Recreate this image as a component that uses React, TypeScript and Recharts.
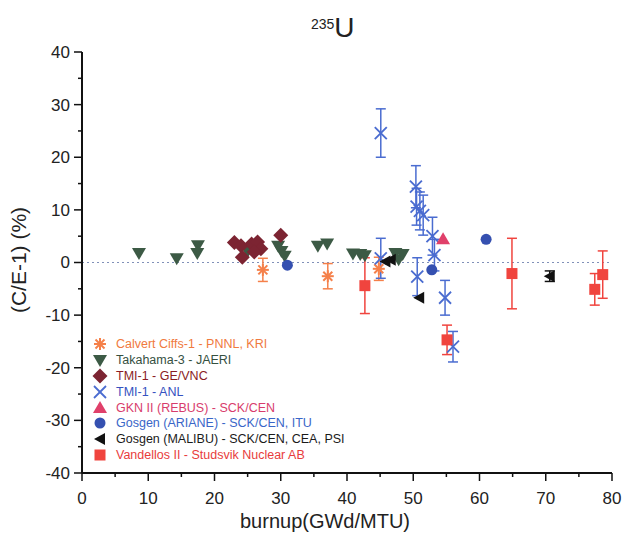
import React from 'react';
import { ScatterChart, Scatter, XAxis, YAxis, ErrorBar, ReferenceLine } from 'recharts';

// burnup (GWd/MTU), C/E-1 (%), error (%)
const calvertX = [27.3, 37.1, 44.8];
const calvertY = [-1.4, -2.6, -1.2];
const calvertErr = [2.2, 2.4, 2.2];

const takahamaX = [8.6, 14.3, 17.5, 17.4, 25.0, 29.6, 30.1, 30.6, 35.6, 37.0, 40.9, 42.0, 42.7, 47.3, 47.8, 48.4];
const takahamaY = [1.8, 0.8, 3.3, 1.8, 2.2, 3.2, 2.2, 1.3, 3.2, 3.6, 1.7, 1.6, 1.4, 1.8, 0.6, 1.6];

const geVncX = [23.0, 24.0, 24.2, 25.6, 26.5, 27.0, 26.0, 30.0];
const geVncY = [3.8, 3.2, 1.0, 3.5, 3.9, 2.6, 2.0, 5.2];

const anlX = [45.1, 45.1, 50.4, 50.5, 51.0, 51.5, 52.9, 53.2, 50.6, 54.8, 56.0];
const anlY = [24.6, 0.8, 14.4, 10.6, 9.8, 9.0, 5.0, 1.4, -2.7, -6.7, -16.0];
const anlErr = [4.6, 3.8, 4.0, 3.5, 3.6, 3.8, 3.6, 3.0, 3.6, 3.3, 2.9];

const gknX = [54.5];
const gknY = [4.4];

const arianeX = [31.0, 52.8, 61.0];
const arianeY = [-0.5, -1.4, 4.4];

const malibuX = [45.8, 46.6, 50.9, 70.6];
const malibuY = [0.2, 0.5, -6.7, -2.6];
const malibuErr = [0, 0, 0, 1.0];

const vandellosX = [42.7, 55.1, 64.9, 77.4, 78.6];
const vandellosY = [-4.4, -14.7, -2.1, -5.1, -2.3];
const vandellosErr = [5.3, 2.8, 6.7, 3.0, 4.5];

const xTicks = [0, 5, 10, 15, 20, 25, 30, 35, 40, 45, 50, 55, 60, 65, 70, 75, 80];
const yTicks = [-40, -35, -30, -25, -20, -15, -10, -5, 0, 5, 10, 15, 20, 25, 30, 35, 40];

const pts = (xs: number[], ys: number[], errs?: number[]) =>
  xs.map((x, i) => ({ x, y: ys[i], err: errs ? errs[i] : 0 }));

const Asterisk = ({ cx, cy, fill }: any) => (
  <g stroke={fill} strokeWidth={2}>
    <line x1={cx - 6} y1={cy} x2={cx + 6} y2={cy} />
    <line x1={cx} y1={cy - 6} x2={cx} y2={cy + 6} />
    <line x1={cx - 4.5} y1={cy - 4.5} x2={cx + 4.5} y2={cy + 4.5} />
    <line x1={cx - 4.5} y1={cy + 4.5} x2={cx + 4.5} y2={cy - 4.5} />
  </g>
);
const Cross = ({ cx, cy, fill }: any) => (
  <g stroke={fill} strokeWidth={1.8}>
    <line x1={cx - 6} y1={cy - 6} x2={cx + 6} y2={cy + 6} />
    <line x1={cx - 6} y1={cy + 6} x2={cx + 6} y2={cy - 6} />
  </g>
);
const TriDown = ({ cx, cy, fill }: any) => (
  <polygon points={`${cx - 7},${cy - 5} ${cx + 7},${cy - 5} ${cx},${cy + 7}`} fill={fill} />
);
const TriUp = ({ cx, cy, fill }: any) => (
  <polygon points={`${cx},${cy - 7} ${cx + 7},${cy + 5} ${cx - 7},${cy + 5}`} fill={fill} />
);
const TriLeft = ({ cx, cy, fill }: any) => (
  <polygon points={`${cx - 6},${cy} ${cx + 5},${cy - 6} ${cx + 5},${cy + 6}`} fill={fill} />
);
const Diamond = ({ cx, cy, fill }: any) => (
  <polygon points={`${cx},${cy - 7.5} ${cx + 7.5},${cy} ${cx},${cy + 7.5} ${cx - 7.5},${cy}`} fill={fill} />
);
const Dot = ({ cx, cy, fill }: any) => <circle cx={cx} cy={cy} r={5.5} fill={fill} />;
const Square = ({ cx, cy, fill }: any) => (
  <rect x={cx - 5.5} y={cy - 5.5} width={11} height={11} fill={fill} />
);

const series = [
  { name: 'Calvert Ciffs-1 - PNNL, KRI', color: '#f5804a', text: '#f07a40', shape: Asterisk },
  { name: 'Takahama-3 - JAERI', color: '#3c5a45', text: '#35503f', shape: TriDown },
  { name: 'TMI-1 - GE/VNC', color: '#7c2432', text: '#8a1c24', shape: Diamond },
  { name: 'TMI-1 - ANL', color: '#4a6cd0', text: '#3552c0', shape: Cross },
  { name: 'GKN II (REBUS) - SCK/CEN', color: '#e0406a', text: '#d83c6c', shape: TriUp },
  { name: 'Gosgen (ARIANE) - SCK/CEN, ITU', color: '#3550b0', text: '#3a66c8', shape: Dot },
  { name: 'Gosgen (MALIBU) - SCK/CEN, CEA, PSI', color: '#111111', text: '#1a1a1a', shape: TriLeft },
  { name: 'Vandellos II - Studsvik Nuclear AB', color: '#f0443e', text: '#e83c3c', shape: Square },
];

const XTick = ({ x, y, payload }: any) => {
  const major = payload.value % 10 === 0;
  return (
    <g>
      <line x1={x} y1={y} x2={x} y2={y + (major ? 8 : 4)} stroke="#111" strokeWidth={1.5} />
      {major && (
        <text x={x} y={y + 31} textAnchor="middle" fontSize={17} fill="#222">
          {payload.value}
        </text>
      )}
    </g>
  );
};

const YTick = ({ x, y, payload }: any) => {
  const major = payload.value % 10 === 0;
  return (
    <g>
      <line x1={x - (major ? 8 : 4)} y1={y} x2={x} y2={y} stroke="#111" strokeWidth={1.5} />
      {major && (
        <text x={x - 12} y={y} dy="0.35em" textAnchor="end" fontSize={17} fill="#222">
          {payload.value}
        </text>
      )}
    </g>
  );
};

const LegendBox = () => (
  <div style={{ position: 'absolute', left: 92, top: 336, fontSize: 12.5 }}>
    {series.map((s) => {
      const Shape = s.shape;
      return (
        <div key={s.name} style={{ display: 'flex', alignItems: 'center', height: 15.9 }}>
          <svg width={16} height={16} style={{ marginRight: 8 }}>
            <Shape cx={8} cy={8} fill={s.color} />
          </svg>
          <span style={{ color: s.text, whiteSpace: 'nowrap' }}>{s.name}</span>
        </div>
      );
    })}
  </div>
);

export default function App() {
  const data = [
    pts(calvertX, calvertY, calvertErr),
    pts(takahamaX, takahamaY),
    pts(geVncX, geVncY),
    pts(anlX, anlY, anlErr),
    pts(gknX, gknY),
    pts(arianeX, arianeY),
    pts(malibuX, malibuY, malibuErr),
    pts(vandellosX, vandellosY, vandellosErr),
  ];
  const withErr = [true, false, false, true, false, false, true, true];
  return (
    <div
      style={{
        position: 'absolute',
        left: 0,
        top: 0,
        width: 629,
        height: 540,
        background: '#fff',
        fontFamily: '"Liberation Sans", Arial, sans-serif',
      }}
    >
      <div style={{ position: 'absolute', left: 311, top: 12, color: '#222', whiteSpace: 'nowrap' }}>
        <span style={{ fontSize: 14, verticalAlign: 'top', position: 'relative', top: 4 }}>235</span>
        <span style={{ fontSize: 28 }}>U</span>
      </div>
      <ScatterChart width={629} height={540} margin={{ top: 52, right: 17, bottom: 0, left: 0 }}>
        <XAxis
          type="number"
          dataKey="x"
          domain={[0, 80]}
          ticks={xTicks}
          interval={0}
          tickSize={0}
          tickMargin={0}
          tickLine={false}
          tick={<XTick />}
          height={67}
          axisLine={{ stroke: '#111', strokeWidth: 2 }}
        />
        <YAxis
          type="number"
          dataKey="y"
          domain={[-40, 40]}
          ticks={yTicks}
          interval={0}
          tickSize={0}
          tickMargin={0}
          tickLine={false}
          tick={<YTick />}
          width={82}
          axisLine={{ stroke: '#111', strokeWidth: 2 }}
        />
        <ReferenceLine y={0} stroke="#8090b8" strokeWidth={1.2} strokeDasharray="2 3" />
        {series.map((s, i) => (
          <Scatter
            key={s.name}
            name={s.name}
            data={data[i]}
            fill={s.color}
            shape={s.shape}
            isAnimationActive={false}
          >
            {withErr[i] && (
              <ErrorBar dataKey="err" direction="y" width={5} stroke={s.color} strokeWidth={1.5} />
            )}
          </Scatter>
        ))}
      </ScatterChart>
      <LegendBox />
      <div
        style={{
          position: 'absolute',
          left: 325,
          top: 511,
          transform: 'translateX(-50%)',
          fontSize: 20,
          lineHeight: '20px',
          color: '#222',
          whiteSpace: 'nowrap',
        }}
      >
        burnup(GWd/MTU)
      </div>
      <div
        style={{
          position: 'absolute',
          left: 18,
          top: 260,
          transform: 'translate(-50%, -50%) rotate(-90deg)',
          fontSize: 21,
          lineHeight: '21px',
          color: '#222',
          whiteSpace: 'nowrap',
        }}
      >
        (C/E-1) (%)
      </div>
    </div>
  );
}
